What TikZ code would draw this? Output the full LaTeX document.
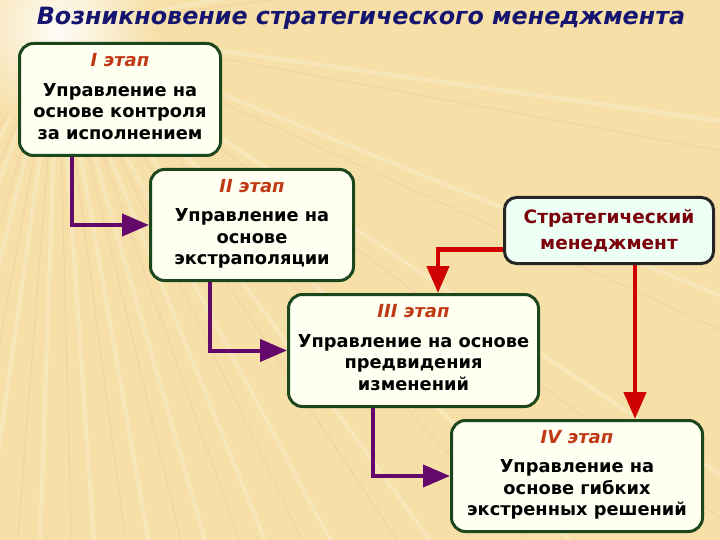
\documentclass[tikz,border=0pt]{standalone}
\usepackage{fontspec}
\setmainfont{DejaVu Sans}
\usetikzlibrary{arrows.meta}

\definecolor{bgsand}{RGB}{247,224,168}
\definecolor{raypink}{RGB}{236,170,170}
\definecolor{stagegreen}{RGB}{28,70,28}
\definecolor{stagefill}{RGB}{255,255,242}
\definecolor{stratfill}{RGB}{238,255,246}
\definecolor{flowpurple}{RGB}{100,8,108}
\definecolor{stratred}{RGB}{206,0,0}
\definecolor{titleblue}{RGB}{22,22,112}
\definecolor{stagebrown}{RGB}{192,58,22}
\definecolor{stratwine}{RGB}{122,0,10}

\tikzset{
  stagebox/.style={draw=stagegreen, line width=3pt, fill=stagefill,
    rounded corners=14pt, align=center, inner sep=0pt,
    font=\bfseries\fontsize{17.8}{21.5}\selectfont},
  stratbox/.style={draw=black!85, line width=3pt, fill=stratfill,
    rounded corners=12pt, align=center, inner sep=0pt, text=stratwine,
    font=\bfseries\fontsize{18.5}{25.5}\selectfont},
  flowarrow/.style={draw=flowpurple, line width=4pt,
    -{Triangle[length=27pt,width=22pt]}},
  stratarrow/.style={draw=stratred, line width=4.5pt,
    -{Triangle[length=27pt,width=22pt]}},
}
\newcommand{\stagename}[1]{{\color{stagebrown}\itshape\fontsize{18}{21.5}\selectfont #1}\\[8pt]}
% lifts the text block a little inside its box
\newcommand{\stageend}{\\[-15.5pt]\mbox{}}

\begin{document}
\begin{tikzpicture}[x=1pt,y=-1pt]
      \useasboundingbox (0,0) rectangle (720,540);

      % background with light burst
      \begin{scope}
        \clip (0,0) rectangle (720,540);
        \fill[bgsand] (0,0) rectangle (720,540);
        \foreach \a in {-10,8,22,34,45,54,62,68,74,80,86,92,98,104,111,118,126,135,148,165}{
          \draw[white, opacity=0.22, line width=4pt] (58,28) -- ++(\a:900);
          \draw[raypink, opacity=0.25, line width=1.2pt] (58,28) -- ++(\a+2.5:900);
        }
        \shade[inner color=white, outer color=bgsand, opacity=0.9] (58,28) circle (100);
      \end{scope}

      \node[text=titleblue, font=\bfseries\itshape\fontsize{23.8}{26}\selectfont]
        (title) at (361,18) {Возникновение стратегического менеджмента};

      \node[stagebox, minimum width=201pt, minimum height=112pt] (stageI) at (120,99.5)
        {\stagename{I этап}Управление на\\основе контроля\\за исполнением\stageend};
      \node[stagebox, minimum width=203pt, minimum height=111pt] (stageII) at (252,225)
        {\stagename{II этап}Управление на\\основе\\экстраполяции\stageend};
      \node[stagebox, minimum width=250pt, minimum height=112pt] (stageIII) at (413.5,350.5)
        {\stagename{III этап}Управление на основе\\предвидения\\изменений\stageend};
      \node[stagebox, minimum width=251pt, minimum height=111pt] (stageIV) at (577,476)
        {\stagename{IV этап}Управление на\\основе гибких\\экстренных решений\stageend};

      \node[stratbox, minimum width=209pt, minimum height=66pt] (strat) at (609,230.5)
        {Стратегический\\менеджмент};

      \draw[flowarrow] ([xshift=54pt]stageI.south west) |- (stageII.west);
      \draw[flowarrow] ([xshift=61pt]stageII.south west) |- (stageIII.west);
      \draw[flowarrow] ([xshift=86pt]stageIII.south west) |- (stageIV.west);

      \draw[stratarrow] ([yshift=-19pt]strat.west) -| ([xshift=151pt]stageIII.north west);
      \draw[stratarrow] ([xshift=26pt]strat.south) -- ([xshift=26pt]strat.south |- stageIV.north);
\end{tikzpicture}
\end{document}
